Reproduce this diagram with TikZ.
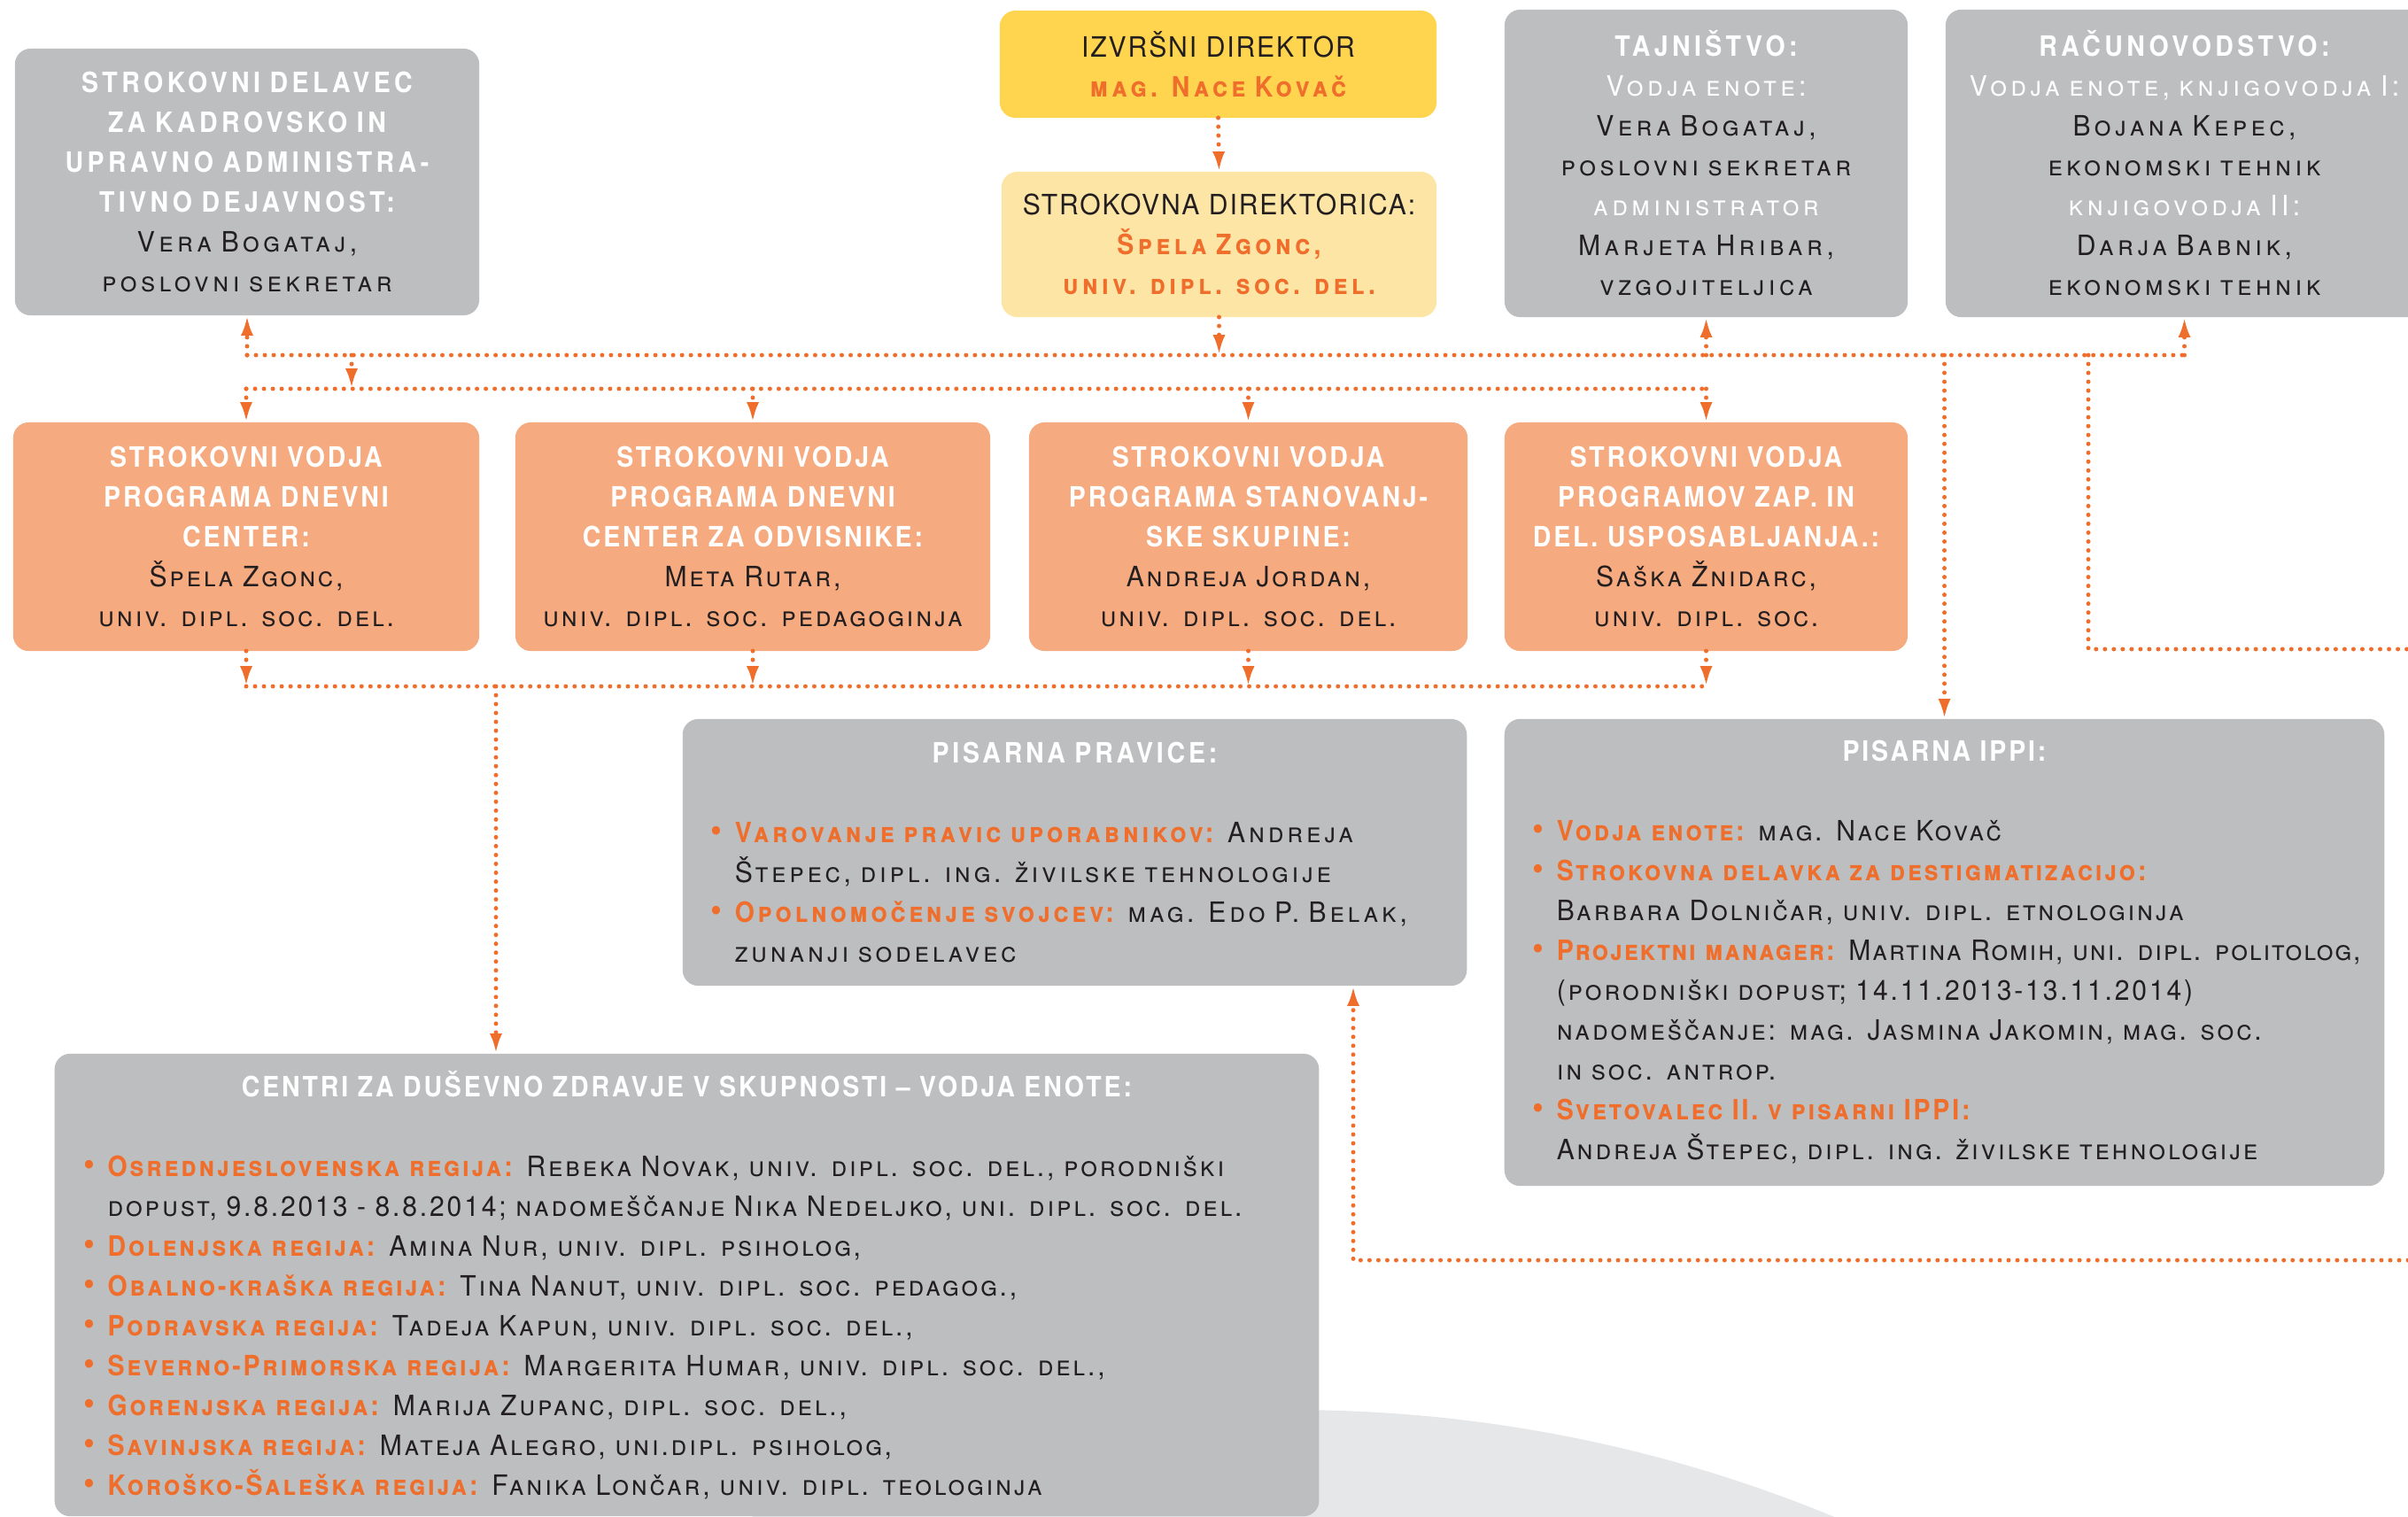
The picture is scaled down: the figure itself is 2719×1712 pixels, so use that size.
\documentclass[tikz,border=0pt]{standalone}
\usepackage{fontspec}
\setmainfont{TeX Gyre Heros}[LetterSpace=9,FakeStretch=0.95,BoldFeatures={FakeStretch=0.9}]
\usetikzlibrary{positioning,arrows.meta}
\definecolor{siva}{HTML}{BCBEC0}
\definecolor{oranzna}{HTML}{F5AA7F}
\definecolor{rumena}{HTML}{FFD44F}
\definecolor{svrumena}{HTML}{FDE5A6}
\definecolor{crta}{HTML}{EF6E2C}
\definecolor{temna}{HTML}{231F20}
\definecolor{ozadje}{HTML}{E6E7E8}
\newcommand{\hd}[1]{{\bfseries\color{white}#1}}
\newcommand{\bl}[1]{{\scshape\color{white}#1}}
\newcommand{\im}[1]{{\scshape#1}}
\newcommand{\oz}[1]{{\bfseries\scshape\color{crta}#1}}
\newcommand{\crn}[1]{{\addfontfeature{LetterSpace=6}#1}}
\newcommand{\pika}{\leavevmode\llap{\textcolor{crta}{\fontsize{11}{11}\selectfont\textbullet}\hspace{0.14cm}}}
\newcommand{\sred}[1]{\makebox[\linewidth]{#1}}
\newcommand{\vrsta}[1]{\mbox{\addfontfeature{LetterSpace=6}#1}}

\begin{document}
\begin{tikzpicture}[x=0.01cm,y=-0.01cm,
    box/.style={rounded corners=5pt,inner sep=0pt,outer sep=0pt,align=center,
      text=temna,font=\fontsize{9}{12.8}\selectfont},
    siroko/.style={font=\fontsize{9}{12.8}\selectfont\addfontfeature{LetterSpace=14}},
    sivi/.style={box,siroko,fill=siva},
    oranzni/.style={box,fill=oranzna,minimum height=2.58cm},
    seznam/.style={box,fill=siva,align=left,inner xsep=0.59cm},
    pot/.style={crta,line width=1.42pt,dash pattern=on 0pt off 2.85pt,line cap=round},
    puscica/.style={pot,-{Latex[length=6.5pt,width=4pt]}}]
  \useasboundingbox (0,0) rectangle (2719,1712);
  \clip (0,0) rectangle (2719,1712);
  \fill[ozadje] (1460,3193) circle[radius=16cm];

  \node[sivi,text width=5.24cm,minimum height=3.01cm] (kadr) at (279,205.5)
    {\hd{STROKOVNI DELAVEC\\ZA KADROVSKO IN\\UPRAVNO ADMINISTRA-\\TIVNO DEJAVNOST:}\\
     \im{Vera Bogataj,\\poslovni sekretar}};
  \node[box,siroko,fill=rumena,text width=4.93cm,minimum height=1.21cm] (izvrs) at (1375.5,72.5)
    {\crn{IZVRŠNI DIREKTOR}\\\oz{mag. Nace Kovač}};
  \node[box,siroko,fill=svrumena,text width=4.91cm,minimum height=1.64cm] (strdir) at (1376.5,276)
    {\crn{STROKOVNA DIREKTORICA:}\\\oz{Špela Zgonc,\\univ. dipl. soc. del.}};
  \node[sivi,text width=4.55cm,minimum height=3.47cm] (tajn) at (1926.5,184.5)
    {\hd{TAJNIŠTVO:}\\\bl{Vodja enote:}\\\im{Vera Bogataj,\\poslovni sekretar}\\
     \bl{administrator}\\\im{Marjeta Hribar,\\vzgojiteljica}};
  \node[sivi,text width=5.39cm,minimum height=3.47cm] (racun) at (2466.5,184.5)
    {\hd{RAČUNOVODSTVO:}\\\bl{Vodja enote, knjigovodja I:}\\\im{Bojana Kepec,\\ekonomski tehnik}\\
     \bl{knjigovodja II:}\\\im{Darja Babnik,\\ekonomski tehnik}};

  \node[oranzni,text width=5.26cm] (prog1) at (278,606)
    {\hd{STROKOVNI VODJA\\PROGRAMA DNEVNI\\CENTER:}\\\im{Špela Zgonc,\\univ. dipl. soc. del.}};
  \node[oranzni,text width=5.36cm] (prog2) at (850,606)
    {\hd{STROKOVNI VODJA\\PROGRAMA DNEVNI\\CENTER ZA ODVISNIKE:}\\\im{Meta Rutar,\\univ. dipl. soc. pedagoginja}};
  \node[oranzni,text width=4.95cm] (prog3) at (1409.5,606)
    {\hd{STROKOVNI VODJA\\PROGRAMA STANOVANJ-\\SKE SKUPINE:}\\\im{Andreja Jordan,\\univ. dipl. soc. del.}};
  \node[oranzni,text width=4.55cm] (prog4) at (1926.5,606)
    {\hd{STROKOVNI VODJA\\PROGRAMOV ZAP. IN\\DEL. USPOSABLJANJA.:}\\\im{Saška Žnidarc,\\univ. dipl. soc.}};

  \node[seznam,font=\fontsize{9}{12.8}\selectfont\addfontfeature{LetterSpace=12},
    text width=7.67cm,minimum height=3.01cm] (pravice) at (1213.5,962.5)
    {\sred{\hd{PISARNA PRAVICE:}}\\[12.8pt]
     \pika\oz{Varovanje pravic uporabnikov:} \im{Andreja}\\
     \im{Štepec, dipl. ing. živilske tehnologije}\\
     \pika\oz{Opolnomočenje svojcev:} \im{mag. Edo P. Belak,}\\
     \im{zunanji sodelavec}};
  \node[seznam,text width=8.75cm,minimum height=5.27cm] (ippi) at (2195.5,1075.5)
    {\sred{\hd{PISARNA IPPI:}}\\[12.8pt]
     \pika\oz{Vodja enote:} \im{mag. Nace Kovač}\\
     \pika\oz{Strokovna delavka za destigmatizacijo:}\\
     \im{Barbara Dolničar, univ. dipl. etnologinja}\\
     \vrsta{\pika\oz{Projektni manager:} \im{Martina Romih, uni. dipl. politolog,}}\\
     \im{(porodniški dopust; 14.11.2013-13.11.2014)}\\
     \im{nadomeščanje: mag. Jasmina Jakomin, mag. soc.}\\
     \im{in soc. antrop.}\\
     \pika\oz{Svetovalec II. v pisarni IPPI:}\\
     \im{Andreja Štepec, dipl. ing. živilske tehnologije}};
  \node[seznam,inner xsep=0.6cm,text width=13.07cm,minimum height=5.22cm] (cdz) at (775.5,1451)
    {\sred{\hd{CENTRI ZA DUŠEVNO ZDRAVJE V SKUPNOSTI – VODJA ENOTE:}}\\[12.8pt]
     \pika\oz{Osrednjeslovenska regija:} \im{Rebeka Novak, univ. dipl. soc. del., porodniški}\\
     \im{dopust, 9.8.2013 - 8.8.2014; nadomeščanje Nika Nedeljko, uni. dipl. soc. del.}\\
     \pika\oz{Dolenjska regija:} \im{Amina Nur, univ. dipl. psiholog,}\\
     \pika\oz{Obalno-kraška regija:} \im{Tina Nanut, univ. dipl. soc. pedagog.,}\\
     \pika\oz{Podravska regija:} \im{Tadeja Kapun, univ. dipl. soc. del.,}\\
     \pika\oz{Severno-Primorska regija:} \im{Margerita Humar, univ. dipl. soc. del.,}\\
     \pika\oz{Gorenjska regija:} \im{Marija Zupanc, dipl. soc. del.,}\\
     \pika\oz{Savinjska regija:} \im{Mateja Alegro, uni.dipl. psiholog,}\\
     \pika\oz{Koroško-Šaleška regija:} \im{Fanika Lončar, univ. dipl. teologinja}};

  \coordinate (r1) at (0,401);
  \coordinate (r2) at (0,439);
  \coordinate (r3) at (0,775);
  \coordinate (k1) at (397,401);
  \coordinate (k2) at (560,775);
  \coordinate (k3) at (2358,401);
  \coordinate (k4) at (1528,1423);
  \coordinate (desno1) at (2719,733);
  \coordinate (desno2) at (2719,1423);

  \draw[puscica] (izvrs.south) -- (strdir.north);
  \draw[puscica] (strdir.south) -- (strdir.south |- r1);
  \draw[pot] (kadr.south |- r1) -- (racun.south |- r1);
  \draw[puscica] (kadr.south |- r1) -- (kadr.south);
  \draw[puscica] (tajn.south |- r1) -- (tajn.south);
  \draw[puscica] (racun.south |- r1) -- (racun.south);
  \draw[puscica] (k1) -- (k1 |- r2);
  \draw[pot] (prog1.north |- r2) -- (prog4.north |- r2);
  \draw[pot] (prog1.south |- r3) -- (prog4.south |- r3);
  \foreach \p in {prog1,prog2,prog3,prog4} {
    \draw[puscica] (\p.north |- r2) -- (\p.north);
    \draw[puscica] (\p.south) -- (\p.south |- r3);
  }
  \draw[puscica] (k2) -- (k2 |- cdz.north);
  \draw[puscica] (ippi.north |- r1) -- (ippi.north);
  \draw[pot] (k3) |- (desno1);
  \draw[puscica] (desno2) -- (k4) -- (k4 |- pravice.south);
\end{tikzpicture}
\end{document}
